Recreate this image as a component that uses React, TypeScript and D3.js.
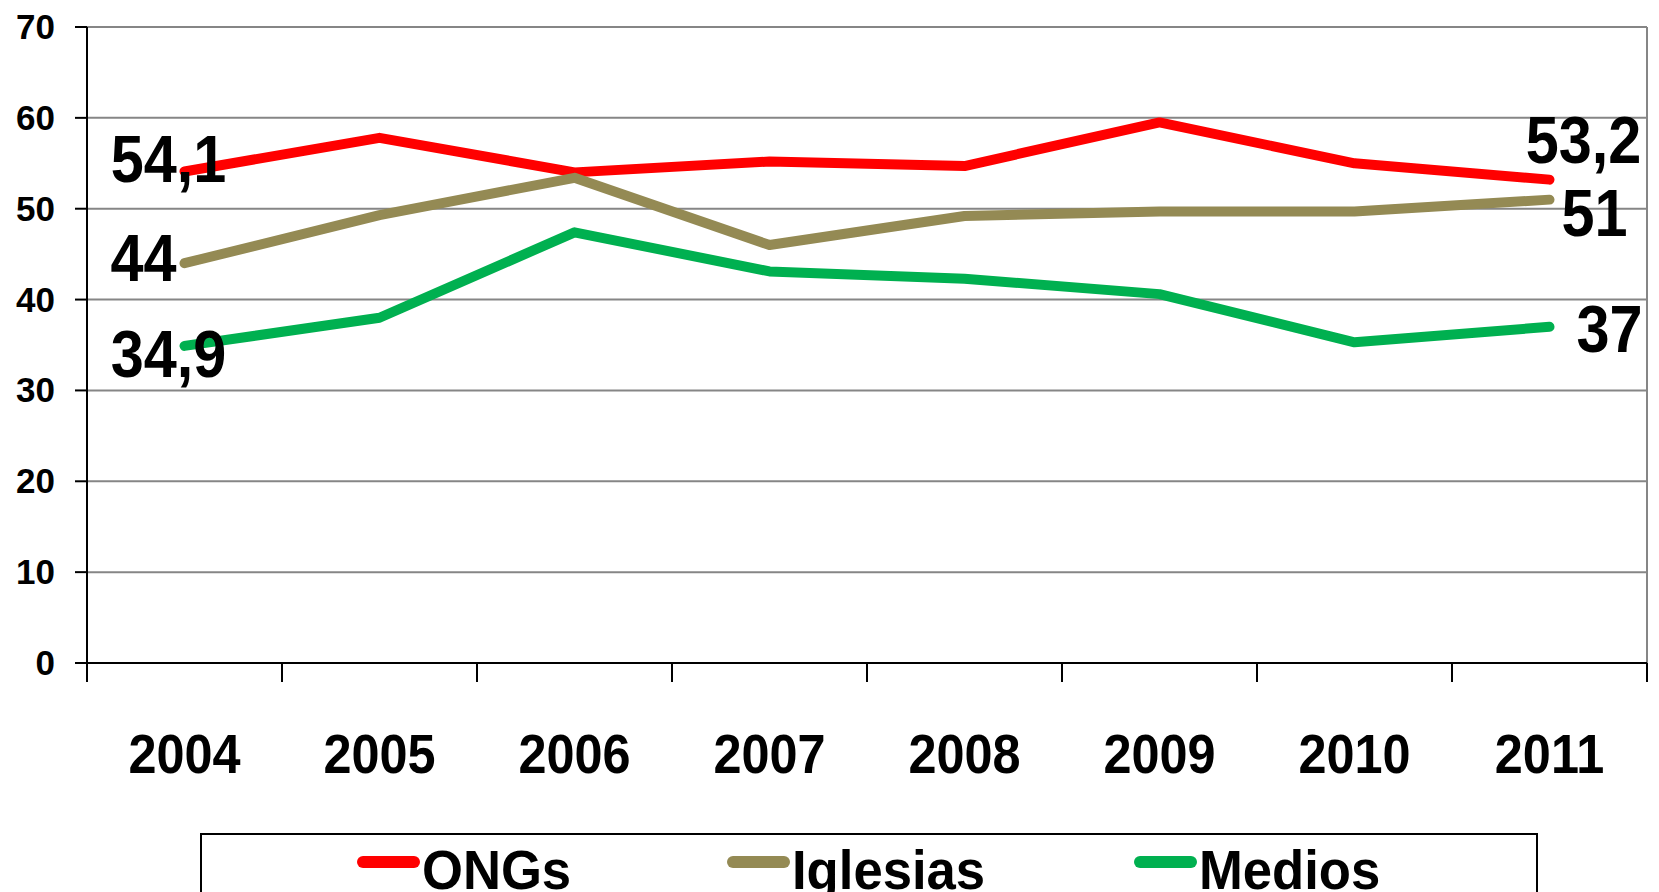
import * as d3 from 'd3';

const years = ['2004', '2005', '2006', '2007', '2008', '2009', '2010', '2011'];
const ongs = [54.1, 57.8, 54.0, 55.2, 54.7, 59.5, 55.0, 53.2];
const iglesias = [44.0, 49.3, 53.4, 46.0, 49.2, 49.7, 49.7, 51.0];
const medios = [34.9, 38.0, 47.4, 43.1, 42.3, 40.6, 35.3, 37.0];
const yTicks = [0, 10, 20, 30, 40, 50, 60, 70];

const W = 1659;
const H = 892;
const margin = { left: 87, right: 12, top: 27, bottom: 229 };
const FONT = '"Liberation Sans", Arial, sans-serif';

const series = [
  { name: 'ONGs', values: ongs, color: '#FF0000' },
  { name: 'Iglesias', values: iglesias, color: '#948A54' },
  { name: 'Medios', values: medios, color: '#00B050' },
];

// where the first / last value labels sit relative to their point
const labelPos: Record<string, { first: [number, number]; last: [number, number] }> = {
  ONGs: { first: [-16, 11], last: [34, -17] },
  Iglesias: { first: [-41, 18], last: [45, 36] },
  Medios: { first: [-16, 31], last: [60, 25] },
};

const legendX = [357, 727, 1134];

const fmt = (v: number) => String(v).replace('.', ',');

export default function App() {
  const x = d3
    .scaleBand<string>()
    .domain(years)
    .range([margin.left, W - margin.right])
    .padding(0);
  const y = d3
    .scaleLinear()
    .domain([0, 70])
    .range([H - margin.bottom, margin.top]);

  const cx = (yr: string) => (x(yr) as number) + x.bandwidth() / 2;
  const y0 = y(0);
  const xRight = W - margin.right;

  const line = d3
    .line<number>()
    .x((_, i) => cx(years[i]))
    .y((d) => y(d));

  const boundaries = [...years.map((yr) => x(yr) as number), xRight];

  return (
    <svg
      width={W}
      height={H}
      style={{ position: 'absolute', left: 0, top: 0, background: '#fff' }}
      fontFamily={FONT}
      fontWeight="bold"
    >
      <rect x={0} y={0} width={W} height={H} fill="#fff" />
      {/* gridlines */}
      {yTicks
        .filter((t) => t > 0)
        .map((t) => (
          <line key={t} x1={margin.left} x2={xRight} y1={y(t)} y2={y(t)} stroke="#868686" strokeWidth={2} />
        ))}
      <line x1={xRight} x2={xRight} y1={y(70)} y2={y0} stroke="#868686" strokeWidth={2} />

      {/* y axis */}
      <line x1={margin.left} x2={margin.left} y1={y(70)} y2={y0 + 19} stroke="#000" strokeWidth={2} />
      {yTicks.map((t) => (
        <g key={t}>
          <line x1={margin.left - 12} x2={margin.left} y1={y(t)} y2={y(t)} stroke="#000" strokeWidth={2} />
          <text x={55} y={y(t) + 12} textAnchor="end" fontSize={35} fill="#000">
            {t}
          </text>
        </g>
      ))}

      {/* x axis */}
      <line x1={margin.left - 12} x2={xRight} y1={y0} y2={y0} stroke="#000" strokeWidth={2} />
      {boundaries.map((b, i) => (
        <line key={i} x1={b} x2={b} y1={y0} y2={y0 + 19} stroke="#000" strokeWidth={2} />
      ))}
      {years.map((yr) => (
        <text
          key={yr}
          transform={`translate(${cx(yr)},${773}) scale(0.9,1)`}
          textAnchor="middle"
          fontSize={56}
          fill="#000"
        >
          {yr}
        </text>
      ))}

      {/* lines */}
      {series.map((s) => (
        <path
          key={s.name}
          d={line(s.values) as string}
          fill="none"
          stroke={s.color}
          strokeWidth={10}
          strokeLinecap="round"
          strokeLinejoin="round"
        />
      ))}

      {/* value labels */}
      {series.map((s) => {
        const n = s.values.length - 1;
        const p = labelPos[s.name];
        return (
          <g key={s.name}>
            <text
              transform={`translate(${cx(years[0]) + p.first[0]},${y(s.values[0]) + p.first[1]}) scale(0.9,1)`}
              textAnchor="middle"
              fontSize={66}
              fill="#000"
            >
              {fmt(s.values[0])}
            </text>
            <text
              transform={`translate(${cx(years[n]) + p.last[0]},${y(s.values[n]) + p.last[1]}) scale(0.9,1)`}
              textAnchor="middle"
              fontSize={66}
              fill="#000"
            >
              {fmt(s.values[n])}
            </text>
          </g>
        );
      })}

      {/* legend (box runs past the bottom edge, as in the original) */}
      <rect x={201} y={834} width={1336} height={120} fill="none" stroke="#000" strokeWidth={2} />
      {series.map((s, i) => (
        <g key={s.name}>
          <line
            x1={legendX[i] + 6}
            x2={legendX[i] + 57}
            y1={862}
            y2={862}
            stroke={s.color}
            strokeWidth={12}
            strokeLinecap="round"
          />
          <text transform={`translate(${legendX[i] + 65},${889}) scale(0.94,1)`} fontSize={56} fill="#000">
            {s.name}
          </text>
        </g>
      ))}
    </svg>
  );
}
